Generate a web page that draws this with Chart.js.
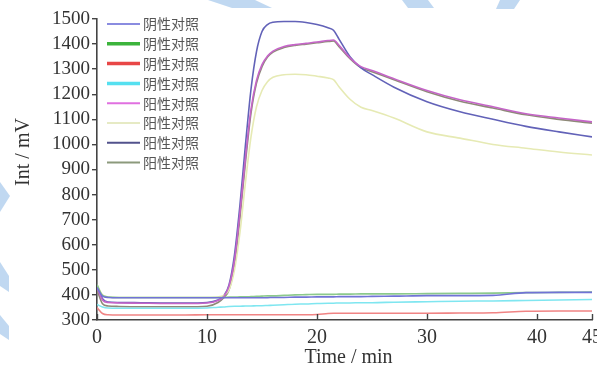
<!DOCTYPE html>
<html><head><meta charset="utf-8">
<script src="https://cdn.jsdelivr.net/npm/chart.js@4/dist/chart.umd.min.js"></script>
<style>
html,body{margin:0;padding:0;background:#fff;overflow:hidden;width:597px;height:372px}
#wrap{position:absolute;left:0;top:0;width:620px;height:372px}
</style>
</head><body><div id="wrap"><canvas id="c" width="620" height="372"></canvas></div>
<script>
// ---- data (time in min, intensity in mV) ----
const times = [0,0.5,1,2,4,6,8,10, 11,11.5,12,12.5,13,13.5,14,14.5,15,15.5,16, 17,18,19,20,21,21.5,22,23,24,25, 27,30,33,36,39,42,45];
const seriesLabels = ["阴性对照","阴性对照","阴性对照","阴性对照","阳性对照","阳性对照","阳性对照","阳性对照"];
const neg1 = [430,395,390,389,389,389,389,389, 389,389,389,389,389,389,389,389,389,389,390, 390,391,391,392,392,392,393,393,393,394, 395,397,397,398,409,410,410];
const neg2 = [440,398,392,390,390,390,390,390, 390,390,391,391,392,392,393,394,395,396,396, 398,400,401,402,402,402,403,403,404,404, 404,405,406,407,409,410,411];
const neg3 = [350,326,321,320,320,320,320,321, 321,321,321,321,321,321,321,321,321,321,321, 321,321,321,322,326,327,327,327,327,327, 327,327,328,329,335,336,336];
const neg4 = [362,352,348,347,347,347,347,348, 351,352,354,355,355,356,356,357,357,358,359, 361,363,364,366,367,367,368,368,369,369, 371,373,375,376,378,380,382];
const pos5 = [430,380,370,368,367,366,366,368, 378,392,435,540,730,950,1140,1255,1318,1352,1372, 1390,1398,1403,1408,1414,1416,1395,1345,1310,1295, 1262,1215,1178,1150,1122,1105,1090];
const pos6 = [440,400,392,390,390,390,390,390, 392,398,420,500,650,850,1030,1150,1215,1250,1268, 1278,1280,1278,1272,1265,1258,1230,1180,1148,1135, 1105,1050,1025,1000,985,970,958];
const pos7 = [440,385,372,370,369,368,368,370, 380,395,440,560,760,1000,1220,1370,1450,1478,1487, 1490,1490,1486,1478,1465,1455,1420,1350,1305,1278, 1228,1170,1130,1100,1072,1050,1030];
const pos8 = [420,365,356,354,353,353,353,355, 370,388,420,520,710,930,1125,1245,1310,1348,1368, 1386,1395,1400,1405,1410,1412,1390,1342,1306,1290, 1258,1210,1172,1145,1118,1100,1085];
const xTickValues = [0,10,20,30,40,45];
const yTickValues = [300,400,500,600,700,800,900,1000,1100,1200,1300,1400,1500];

const allSeries = [neg1,neg2,neg3,neg4,pos5,pos6,pos7,pos8];
const lineColors   = ["#7173d6","#8cc98c","#f08484","#7fe6f0","#c565c8","#e6eab4","#6262b8","#8e8a78"];
const legendColors = ["#8a8ce0","#3cb43c","#e84646","#55e0f0","#e070e0","#e6eac4","#52528c","#8c9a7c"];
const legendWidths = [2,3.5,3.5,3.5,2,2,2,2];

const datasets = allSeries.map((arr,i)=>({
  label: seriesLabels[i],
  data: times.map((t,j)=>({x:t,y:arr[j]})),
  borderColor: lineColors[i],
  borderWidth: 1.6,
  pointRadius: 0,
  fill: false,
  cubicInterpolationMode: 'monotone'
}));

const bgPlugin = {
  id:'bg',
  beforeDraw(chart){
    const c = chart.ctx;
    c.save();
    c.fillStyle = '#fff';
    c.fillRect(0,0,chart.width,chart.height);
    c.fillStyle = 'rgba(165,200,235,0.7)';
    const poly = pts => { c.beginPath(); c.moveTo(pts[0][0],pts[0][1]); for(const p of pts.slice(1)) c.lineTo(p[0],p[1]); c.closePath(); c.fill(); };
    poly([[0,182],[10,196],[0,212]]);
    poly([[0,262],[9,276],[9,292],[0,286]]);
    poly([[0,315],[9,326],[9,340],[0,334]]);
    poly([[208,0],[255,0],[272,8],[232,8]]);
    poly([[402,0],[428,0],[434,8],[408,8]]);
    poly([[500,0],[520,0],[514,9],[496,9]]);
    c.restore();
  }
};

const axisDeco = {
  id:'axisDeco',
  afterDraw(chart){
    const c = chart.ctx, a = chart.chartArea, xs = chart.scales.x;
    c.save();
    c.strokeStyle = '#444'; c.lineWidth = 1.4;
    for (const v of xTickValues){
      const px = Math.round(xs.getPixelForValue(v))+0.5;
      c.beginPath(); c.moveTo(px,a.bottom); c.lineTo(px,a.bottom-6); c.stroke();
    }
    // legend
    c.font = '14px "Noto Sans CJK SC"';
    c.textBaseline = 'middle';
    c.fillStyle = '#555';
    chart.data.datasets.forEach((ds,i)=>{
      const y = a.top + 5 + i*19.8;
      c.strokeStyle = legendColors[i]; c.lineWidth = legendWidths[i];
      c.beginPath(); c.moveTo(a.left+10,y); c.lineTo(a.left+43,y); c.stroke();
      c.fillText(ds.label, a.left+46, y);
    });
    // axis titles
    c.fillStyle = '#333';
    c.font = '20px "Liberation Serif"';
    c.textAlign = 'center';
    c.fillText('Time / min', (a.left+a.right)/2 + 4, a.bottom + 38);
    c.translate(24, a.top + 133);
    c.rotate(-Math.PI/2);
    c.fillText('Int / mV', 0, 0);
    c.restore();
  }
};

new Chart(document.getElementById('c'), {
  type:'line',
  data:{datasets},
  options:{
    responsive:false, animation:false, devicePixelRatio:1,
    layout:{padding:{left:0,top:19,right:28,bottom:0}},
    plugins:{legend:{display:false}, tooltip:{enabled:false}},
    scales:{
      x:{type:'linear', min:0, max:45,
        afterBuildTicks: s => { s.ticks = xTickValues.map(v=>({value:v})); },
        afterFit: s => { s.height = 52; },
        ticks:{color:'#333', font:{family:'"Liberation Serif"', size:20}, padding:6, maxRotation:0, autoSkip:false, callback: v => String(v)},
        grid:{display:true, drawOnChartArea:false, drawTicks:false},
        border:{color:'#444', width:1.6}
      },
      y:{min:yTickValues[0], max:yTickValues[yTickValues.length-1],
        afterBuildTicks: s => { s.ticks = yTickValues.map(v=>({value:v})); },
        afterFit: s => { s.width = 97; },
        ticks:{color:'#333', font:{family:'"Liberation Serif"', size:19}, padding:2, autoSkip:false, callback: v => String(v)},
        grid:{display:true, drawOnChartArea:false, drawTicks:true, tickLength:5, color:'#444', lineWidth:1.4},
        border:{color:'#444', width:1.6}
      }
    }
  },
  plugins:[bgPlugin, axisDeco]
});
</script>
</body></html>
